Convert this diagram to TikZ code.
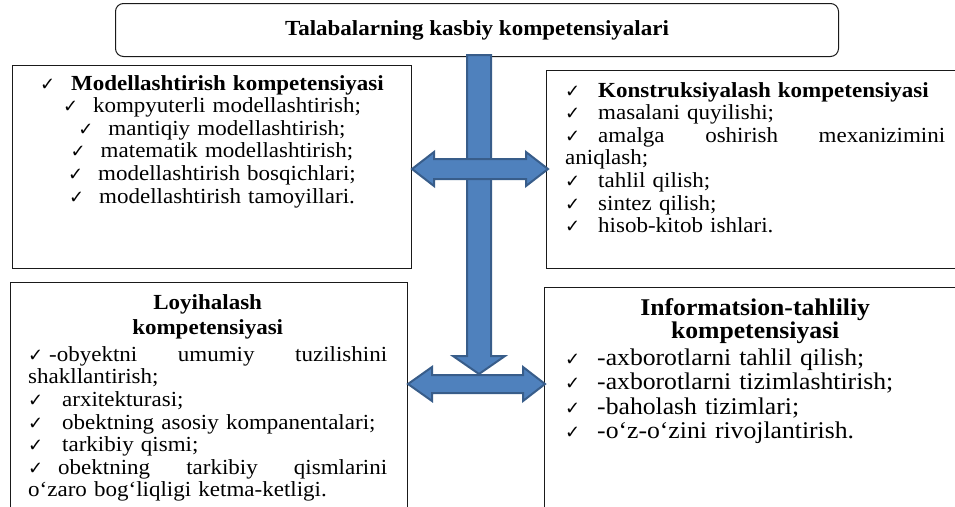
\documentclass[tikz,border=0pt]{standalone}
\usepackage{fontspec}
\setmainfont{Liberation Serif}[FakeStretch=1.07]
\newfontfamily\ckfont{DejaVu Sans}
\newcommand\chk[1]{\makebox[#1][l]{\ckfont\fontsize{18}{18}\selectfont ✓}}
\definecolor{arrfill}{HTML}{4F81BD}
\definecolor{arrline}{HTML}{385D8A}
\definecolor{frameline}{HTML}{1A1A1A}
\tikzset{
  frame/.style={draw=frameline, line width=1pt, rectangle, anchor=north west, inner sep=0pt},
  roundframe/.style={frame, rounded corners=8pt},
  bigarrow/.style={fill=arrfill, draw=arrline, line width=2pt, line join=miter},
  bodytext/.style={inner sep=0pt, font=\fontsize{21.5}{22.6}\selectfont},
  bigtext/.style={inner sep=0pt, font=\fontsize{24}{24.5}\selectfont},
}
\begin{document}
\begin{tikzpicture}[x=1pt, y=-1pt]
\useasboundingbox (0,0) rectangle (955,506);
\clip (0,0) rectangle (955,506);
% boxes
\node[frame, minimum width=399pt, minimum height=203pt] (tl) at (12,65) {};
\node[frame, minimum width=420pt, minimum height=198pt] (tr) at (546,70) {};
\node[frame, minimum width=397pt, minimum height=240pt] (bl) at (10,282) {};
\node[frame, minimum width=422pt, minimum height=235pt] (br) at (544,287) {};
\node[roundframe, minimum width=723pt, minimum height=53pt,
      font=\fontsize{21.5}{22.6}\selectfont\bfseries] (top) at (115,3)
      {\raisebox{2pt}{Talabalarning kasbiy kompetensiyalari}};
% texts
\node[bodytext, anchor=base, text width=390pt, align=center] (tltext) at (tl.north |- 0,90)
{\chk{31pt}\textbf{Modellashtirish kompetensiyasi}\\
 \chk{30pt}kompyuterli modellashtirish;\\
 \chk{30pt}mantiqiy modellashtirish;\\
 \chk{30pt}matematik modellashtirish;\\
 \chk{30pt}modellashtirish bosqichlari;\\
 \chk{30pt}modellashtirish tamoyillari.};
\node[bodytext, anchor=base west, text width=380pt, align=left] (trtext) at (565,97)
{\chk{33pt}\textbf{Konstruksiyalash kompetensiyasi}\\
 \chk{33pt}masalani quyilishi;\\
 \chk{33pt}amalga\hfill oshirish\hfill mexanizimini\\
 aniqlash;\\
 \chk{33pt}tahlil qilish;\\
 \chk{33pt}sintez qilish;\\
 \chk{33pt}hisob-kitob ishlari.};
\node[bodytext, anchor=base west, text width=359pt, align=left] (bltext) at (28,309)
{\makebox[\linewidth][c]{\textbf{Loyihalash}}\\[3pt]
 \makebox[\linewidth][c]{\textbf{kompetensiyasi}}\\[4pt]
 \chk{21pt}-obyektni\hfill umumiy\hfill tuzilishini\\
 shakllantirish;\\
 \chk{34pt}arxitekturasi;\\
 \chk{34pt}obektning asosiy kompanentalari;\\
 \chk{34pt}tarkibiy qismi;\\
 \chk{30pt}obektning\hfill tarkibiy\hfill qismlarini\\
 o‘zaro bog‘liqligi ketma-ketligi.};
\node[bigtext, anchor=base west, text width=380pt, align=left] (brtext) at (565,315)
{\makebox[\linewidth][c]{\textbf{Informatsion-tahliliy}}\\[-1pt]
 \makebox[\linewidth][c]{\textbf{kompetensiyasi}}\\[2pt]
 \chk{32pt}-axborotlarni tahlil qilish;\\
 \chk{32pt}-axborotlarni tizimlashtirish;\\
 \chk{32pt}-baholash tizimlari;\\
 \chk{32pt}-o‘z-o‘zini rivojlantirish.};
% arrows
\coordinate (vtop) at (top.south -| 479,0);
\draw[bigarrow] ([xshift=-12pt,yshift=2pt]vtop) -- ++(24,0) -- (491,356) -- (505,356)
   -- (479,374) -- (453,356) -- (467,356) -- cycle;
\coordinate (a1l) at (tl.east |- 0,169);
\draw[bigarrow] (a1l) -- ++(22,-17) -- ++(0,7) -- ++(92,0) -- ++(0,-7) -- ++(22,17)
   -- ++(-22,17) -- ++(0,-7) -- ++(-92,0) -- ++(0,7) -- cycle;
\coordinate (a2l) at (bl.east |- 0,384);
\draw[bigarrow] (a2l) -- ++(24,-17) -- ++(0,8) -- ++(91,0) -- ++(0,-8) -- ++(22,17)
   -- ++(-22,17) -- ++(0,-8) -- ++(-91,0) -- ++(0,8) -- cycle;
\end{tikzpicture}
\end{document}
